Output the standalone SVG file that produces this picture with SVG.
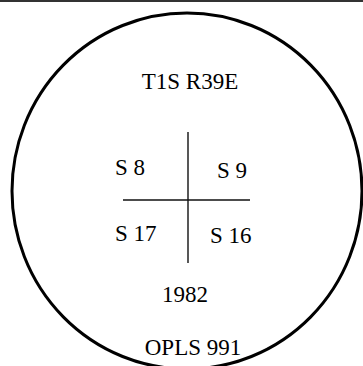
<svg xmlns="http://www.w3.org/2000/svg" width="363" height="366" viewBox="0 0 363 366">
<style>
text{font-family:"Liberation Serif","Times New Roman",serif;font-size:23px;fill:#000}
.ln{stroke:#111;stroke-width:1.4;fill:none}
</style>
<rect x="0" y="0" width="363" height="366" fill="#fff"/>
<rect x="0" y="0" width="363" height="2" fill="#333"/>
<g id="boundary">
<ellipse cx="187" cy="191" rx="175" ry="178" fill="none" stroke="#000" stroke-width="3"/>
</g>
<g id="connectors">
<line class="ln" x1="188" y1="132" x2="188" y2="263"/>
<line class="ln" x1="123" y1="200" x2="250" y2="200"/>
</g>
<g id="title"><text x="190" y="89" text-anchor="middle">T1S R39E</text></g>
<g id="s8"><text x="115" y="175">S 8</text></g>
<g id="s9"><text x="217" y="178">S 9</text></g>
<g id="s17"><text x="115" y="241">S 17</text></g>
<g id="s16"><text x="210" y="243">S 16</text></g>
<g id="year"><text x="185" y="302" text-anchor="middle">1982</text></g>
<g id="opls"><text x="193" y="355" text-anchor="middle">OPLS 991</text></g>
</svg>
